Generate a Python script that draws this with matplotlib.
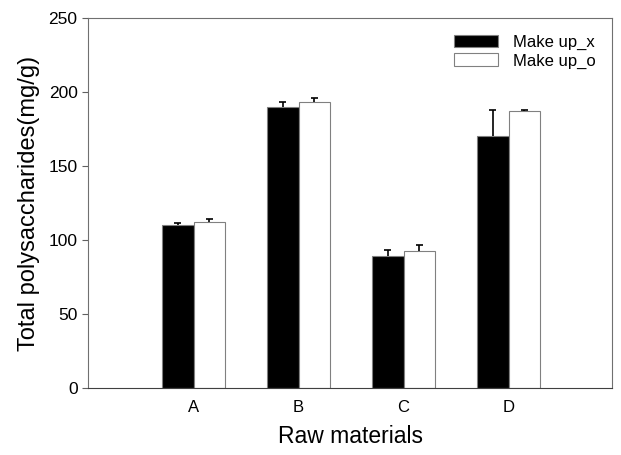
import matplotlib
matplotlib.use('Agg')
import matplotlib.pyplot as plt
import numpy as np

plt.rcParams['font.family'] = ['Liberation Sans', 'DejaVu Sans']

# data
materials = ['A', 'B', 'C', 'D']
make_up_x = [110, 190, 89, 170.5]
make_up_x_err = [1.3, 3, 4, 17.5]
make_up_o = [112, 193, 92.3, 187]
make_up_o_err = [2, 3, 4, 1]

x = np.arange(1, len(materials) + 1)
w = 0.3
cap = 0.035

fig = plt.figure(figsize=(6.21, 4.55), dpi=100)
ax = fig.add_axes([88 / 621, 1 - 388 / 455, 524 / 621, 370 / 455])

series = [(x - w / 2, make_up_x, make_up_x_err, 'black', 'Make up_x'),
          (x + w / 2, make_up_o, make_up_o_err, 'white', 'Make up_o')]
for pos, vals, err, col, lab in series:
    vals = np.array(vals)
    top = vals + np.array(err)
    ax.bar(pos, vals, w, color=col, edgecolor='#808080', linewidth=0.8, label=lab)
    # upper error bars only
    ax.vlines(pos, vals, top, color='black', linewidth=1.2, zorder=3)
    ax.hlines(top, pos - cap, pos + cap, color='black', linewidth=1.2, zorder=3)

ax.set_xlim(-0.005, 4.985)
ax.set_ylim(0, 250)
ax.set_xticks(x)
ax.set_xticklabels(materials)
ax.tick_params(axis='x', length=0, labelsize=12, pad=9)
ax.tick_params(axis='y', direction='out', length=4, labelsize=12.5, color='#606060')
ax.set_yticks([0, 50, 100, 150, 200, 250])
for s in ['left', 'top', 'right']:
    ax.spines[s].set_color('#707070')
ax.spines['bottom'].set_color('#404040')
ax.set_xlabel('Raw materials', fontsize=16.5, labelpad=7)
ax.set_ylabel('Total polysaccharides(mg/g)', fontsize=17, labelpad=6)

ax.legend(loc='upper right', frameon=False, fontsize=12, handlelength=2.6, handleheight=0.8,
          borderaxespad=0.6, labelspacing=0.2, handletextpad=0.9)

fig.savefig('out.png', dpi=100)
